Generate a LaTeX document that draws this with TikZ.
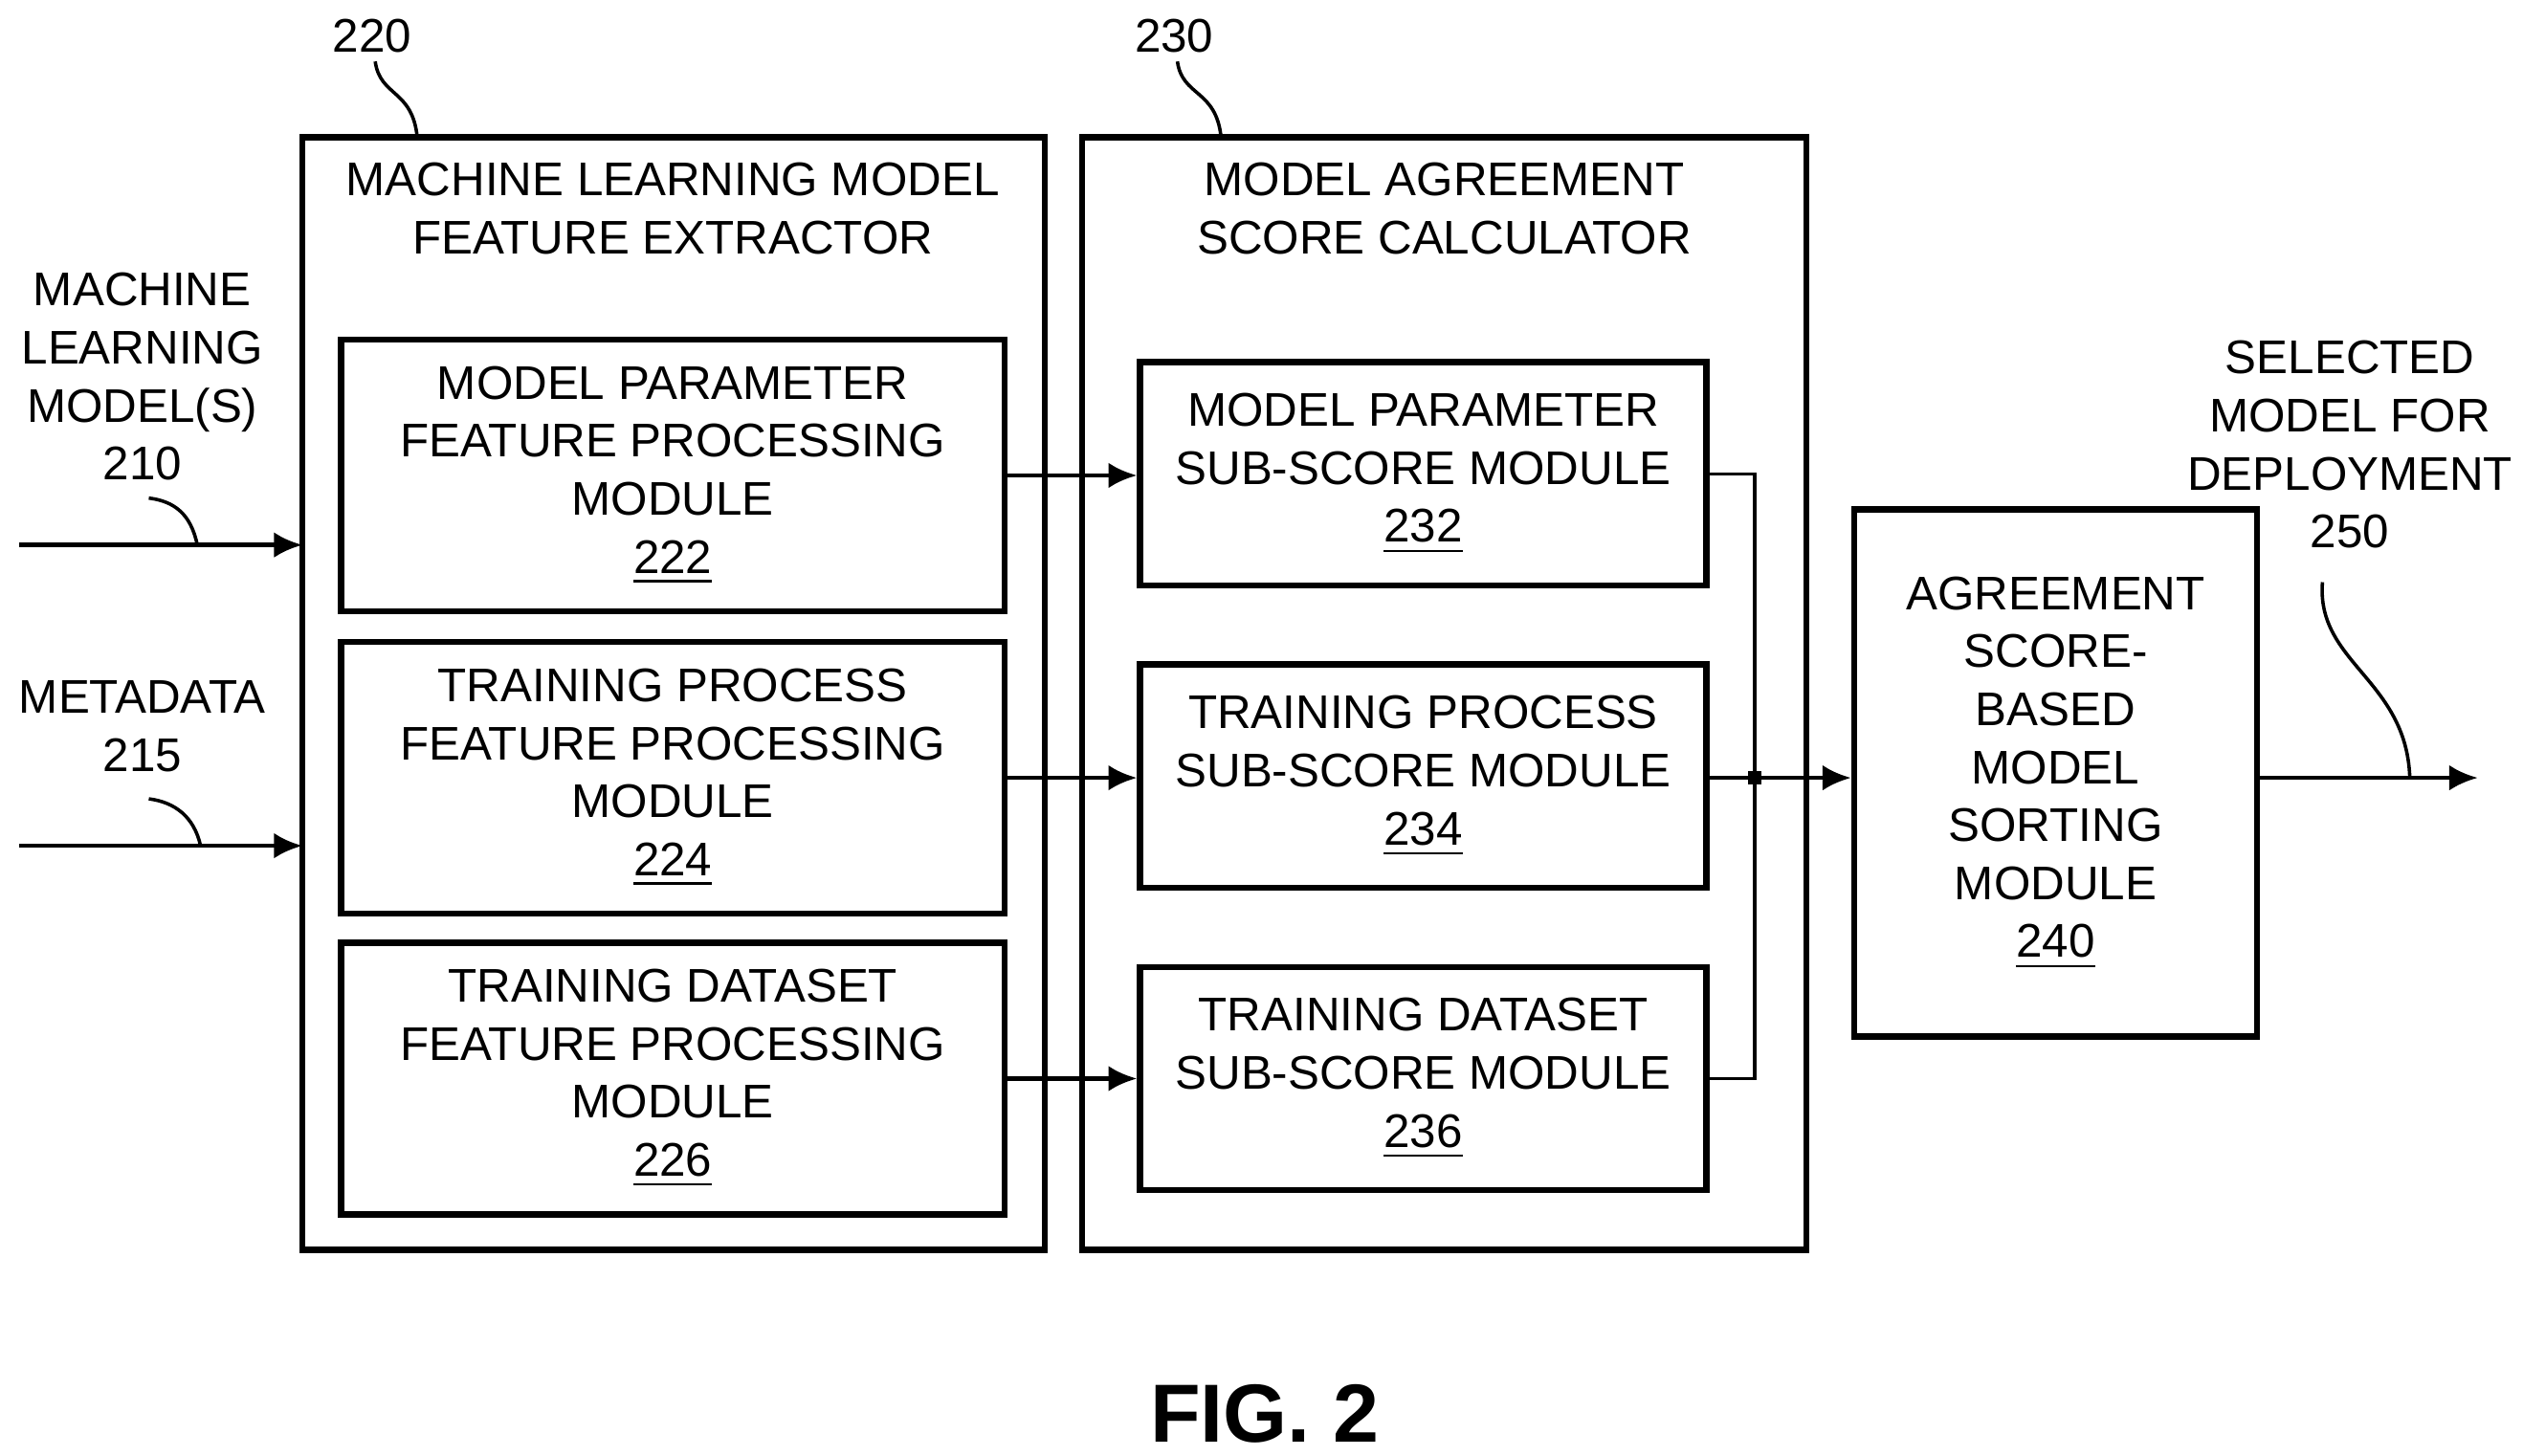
\documentclass[tikz,border=0pt]{standalone}
\usepackage{fontspec}
\setmainfont{Liberation Sans}
\usetikzlibrary{arrows.meta}
\begin{document}
\begin{tikzpicture}[x=0.01cm,y=-0.01cm,
  every node/.style={inner sep=0pt,align=center,font=\fontsize{8.3}{10.2}\selectfont},
  sub/.style={draw,line width=1.1pt,minimum width=4.1cm,minimum height=1.68cm},
  scr/.style={draw,line width=1.1pt,minimum width=3.5cm,minimum height=1.38cm},
  arr/.style={line width=0.8pt,-{Latex[length=5pt,width=4.5pt]}},
  ln/.style={line width=0.6pt}]
\useasboundingbox (0,0) rectangle (1560,900);
% containers
\draw [line width=1.1pt] (187,85) rectangle (646,773);
\draw [line width=1.1pt] (669,85) rectangle (1117,773);
\node (ext) at (416,129) {MACHINE LEARNING MODEL\\FEATURE EXTRACTOR};
\node (calc) at (893,129) {MODEL AGREEMENT\\SCORE CALCULATOR};
\node (n220) at (230,22) {220};
\node (n230) at (726,22) {230};
\draw [ln] (232,38) .. controls (235,60) and (255,55) .. (258,85);
\draw [ln] (728,38) .. controls (731,60) and (752,55) .. (755,85);
% feature modules
\node [sub] (m222) at (416,294) {MODEL PARAMETER\\FEATURE PROCESSING\\MODULE\\\underline{222}};
\node [sub] (m224) at (416,481) {TRAINING PROCESS\\FEATURE PROCESSING\\MODULE\\\underline{224}};
\node [sub] (m226) at (416,667) {TRAINING DATASET\\FEATURE PROCESSING\\MODULE\\\underline{226}};
% sub-score modules
\node [scr] (s232) at (880,293) {MODEL PARAMETER\\SUB-SCORE MODULE\\\underline{232}};
\node [scr] (s234) at (880,480) {TRAINING PROCESS\\SUB-SCORE MODULE\\\underline{234}};
\node [scr] (s236) at (880,667) {TRAINING DATASET\\SUB-SCORE MODULE\\\underline{236}};
\node [draw,line width=1.1pt,minimum width=2.49cm,minimum height=3.26cm] (sort) at (1271,478) {AGREEMENT\\SCORE-\\BASED\\MODEL\\SORTING\\MODULE\\\underline{240}};
% inputs
\node (in210) at (88,233) {MACHINE\\LEARNING\\MODEL(S)\\210};
\node (in215) at (88,449) {METADATA\\215};
\coordinate (a1) at (12,337);
\coordinate (a2) at (12,523);
\draw [arr] (a1) -- (187,337);
\draw [arr] (a2) -- (187,523);
\draw [ln] (92,308) .. controls (108,310) and (118,318) .. (122,337);
\draw [ln] (92,494) .. controls (108,496) and (120,505) .. (124,523);
% links
\draw [arr] (m222.east) -- (s232.west |- m222.east);
\draw [arr] (m224.east) -- (s234.west |- m224.east);
\draw [arr] (m226.east) -- (s236.west |- m226.east);
\coordinate (j) at (1085,481);
\draw [ln] (s232.east) -| (j) |- (s236.east);
\draw [ln] (s234.east |- j) -- (j);
\fill (j) ++(-4,-4) rectangle ++(8,8);
\draw [arr] (j) -- (sort.west |- j);
% output
\coordinate (o) at (1532,481);
\draw [arr] (sort.east |- o) -- (o);
\node (out250) at (1453,275) {SELECTED\\MODEL FOR\\DEPLOYMENT\\250};
\draw [ln] (1436,360) .. controls (1432,410) and (1488,420) .. (1490,481);
\node [font=\bfseries\fontsize{14.5}{17}\selectfont] (fig) at (782,874) {FIG. 2};
\end{tikzpicture}
\end{document}
